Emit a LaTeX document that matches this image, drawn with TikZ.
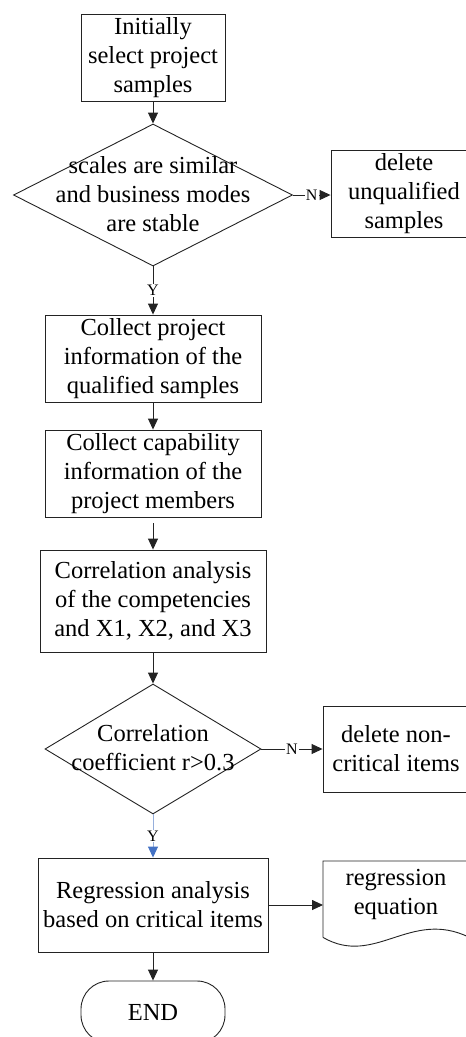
\documentclass[tikz,border=0pt]{standalone}
\usepackage{fontspec}
\setmainfont{Liberation Serif}
\usetikzlibrary{shapes.geometric,arrows.meta}
\definecolor{edge}{RGB}{35,35,35}
\definecolor{ylink}{RGB}{150,175,220}
\definecolor{yhead}{RGB}{68,114,196}
\tikzset{
  body/.style={font=\fontsize{24.5}{29}\selectfont, align=center},
  stepbox/.style={body, draw=edge, line width=0.9pt, rectangle, inner sep=0pt},
  decision/.style={draw=edge, line width=0.9pt, diamond, inner sep=0pt},
  terminal/.style={body, draw=edge, line width=0.9pt, rectangle, rounded corners=28pt, inner sep=0pt},
  flow/.style={draw=edge, line width=0.9pt, -{Triangle[length=11pt,width=10pt]}},
  tag/.style={font=\fontsize{16}{18}\selectfont, fill=white, inner sep=1pt}
}
\begin{document}
\begin{tikzpicture}[x=1pt, y=-1pt]
\useasboundingbox (0,0) rectangle (466,1037);
\clip (0,0) rectangle (466,1037);

% main column
\node[stepbox, minimum width=144pt, minimum height=87pt] (start) at (153,57.5)
  {Initially\\select project\\samples};
\node[decision, minimum width=279pt, minimum height=142pt] (d1) at (153,195) {};
\node[body, inner sep=0pt] (d1t) at (153,194) {scales are similar\\and business modes\\are stable};
\node[stepbox, minimum width=146pt, minimum height=87pt] (del1) at (404,193.5)
  {delete\\unqualified\\samples};
\node[stepbox, minimum width=216pt, minimum height=87pt] (info) at (153,358.5)
  {Collect project\\information of the\\qualified samples};
\node[stepbox, minimum width=216pt, minimum height=87pt] (cap) at (153,473.5)
  {Collect capability\\information of the\\project members};
\node[stepbox, minimum width=226pt, minimum height=102pt] (corr) at (153,601)
  {Correlation analysis\\of the competencies\\and X1, X2, and X3};
\node[decision, minimum width=216pt, minimum height=130pt] (d2) at (153,749) {};
\node[body, inner sep=0pt] (d2t) at (153,748) {Correlation\\coefficient r>0.3};
\node[stepbox, minimum width=146pt, minimum height=86pt] (del2) at (396,749)
  {delete non-\\critical items};
\node[stepbox, minimum width=230pt, minimum height=94pt] (reg) at (153,905)
  {Regression analysis\\based on critical items};
\node[body, inner sep=0pt, minimum width=146pt, minimum height=76pt, anchor=north west] (doc) at (323,861) {};
\node[body, inner sep=0pt] (doct) at (396,894) {regression\\equation};
\node[terminal, minimum width=144pt, minimum height=62pt] (stop) at (153,1012) {END};

% document outline with wavy bottom edge
\draw[edge, line width=0.9pt] (doc.south west) -- (doc.north west) -- (doc.north east) -- (doc.south east)
  (doc.south west) .. controls +(52,30) and +(-59,-29) .. (doc.south east);

% connectors
\draw[flow] (start) -- (d1);
\draw[flow] (d1.east) -- node[tag] {N} (d1.east -| del1.west);
\draw[flow] (d1) -- node[tag] {Y} (info);
\draw[flow] (info) -- (cap);
\draw[flow, shorten <=6pt] (cap) -- (corr);
\draw[flow] (corr) -- (d2);
\draw[flow] (d2.east) -- node[tag] {N} (d2.east -| del2.west);
\draw[draw=ylink, line width=0.9pt, -{Triangle[length=11pt,width=10pt,color=yhead]}] (d2) -- node[tag] {Y} (reg);
\draw[flow] (reg.east) -- (reg.east -| doc.west);
\draw[flow] (reg) -- (stop);
\end{tikzpicture}
\end{document}
